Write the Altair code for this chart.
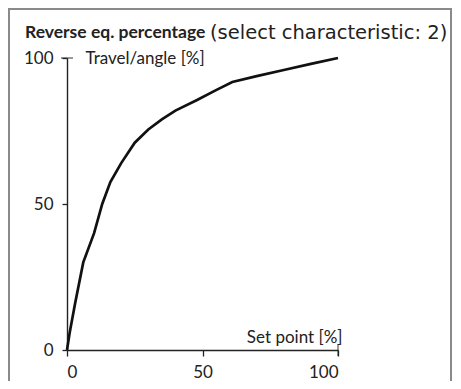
import altair as alt
import pandas as pd

# Data
set_point = [0, 1, 3, 6, 10, 13, 16, 20, 25, 30, 35, 40, 48, 55, 61, 70, 80, 90, 100]
travel = [0, 6, 16, 30, 40, 50, 57.5, 64, 71, 75.5, 79, 82, 85.6, 89, 91.8, 93.8, 95.9, 98, 100]
tick_values = [0, 50, 100]
title_bold = "Reverse eq. percentage"
title_rest = "(select characteristic: 2)"
x_title = "Set point [%]"
y_title = "Travel/angle [%]"

FONT = "Lato"
W, H = 271, 292
TOTAL_W, TOTAL_H = 445, 373

df = pd.DataFrame({"x": set_point, "y": travel})
ends = pd.DataFrame({"x": [0, 100], "y": [100, 0], "o": ["h", "v"]})

xs = alt.Scale(domain=[0, 100], nice=False, zero=False)
ys = alt.Scale(domain=[0, 100], nice=False, zero=False)

line = alt.Chart(df).mark_line(color="#111111", strokeWidth=2.7, clip=False).encode(
    x=alt.X("x:Q", scale=xs, axis=alt.Axis(
        values=tick_values, tickSize=6, tickWidth=1.3, tickColor="#222", domainColor="#222",
        domainWidth=1.4, grid=False, labelFont=FONT, labelFontSize=17, labelColor="#222",
        labelPadding=8, title=x_title, titleFont=FONT, titleFontSize=17, titleFontWeight="normal",
        titleColor="#222", titleX=W + 4, titleY=-13, titleAlign="right", titleBaseline="middle")),
    y=alt.Y("y:Q", scale=ys, axis=alt.Axis(
        values=tick_values, tickSize=5, tickWidth=1.3, tickColor="#222", domainColor="#222",
        domainWidth=1.4, grid=False, labelFont=FONT, labelFontSize=17, labelColor="#222",
        labelPadding=9, title=y_title, titleFont=FONT, titleFontSize=17, titleFontWeight="normal",
        titleColor="#222", titleAngle=0, titleX=18, titleY=0, titleAlign="left",
        titleBaseline="middle")),
)

hticks = alt.Chart(ends[ends.o == "h"]).mark_tick(orient="horizontal", size=12, thickness=1.3,
                                                  color="#222").encode(
    x=alt.X("x:Q", scale=xs), y=alt.Y("y:Q", scale=ys))
vticks = alt.Chart(ends[ends.o == "v"]).mark_tick(orient="vertical", size=12, thickness=1.3,
                                                  color="#222").encode(
    x=alt.X("x:Q", scale=xs), y=alt.Y("y:Q", scale=ys))

frame = alt.Chart(pd.DataFrame({"a": [0]})).mark_rect(
    fill=None, stroke="#8a8a8a", strokeWidth=2, clip=False).encode(
    x=alt.value(-58), x2=alt.value(384), y=alt.value(-49), y2=alt.value(420))

t1 = alt.Chart(pd.DataFrame({"t": [title_bold]})).mark_text(
    font=FONT, fontSize=17.5, fontWeight="bold", align="left", baseline="middle",
    color="#222").encode(text="t:N", x=alt.value(-42), y=alt.value(-25))
t2 = alt.Chart(pd.DataFrame({"t": [title_rest]})).mark_text(
    font="DejaVu Sans", fontSize=19.5, align="left", baseline="middle",
    color="#222").encode(text="t:N", x=alt.value(143), y=alt.value(-25))

chart = alt.layer(frame, line, hticks, vticks, t1, t2).properties(
    width=W, height=H,
    autosize=alt.AutoSizeParams(type="none"),
    padding={"left": 59, "top": 50, "right": TOTAL_W - 59 - W, "bottom": TOTAL_H - 50 - H},
).configure_view(stroke=None)

chart.save("out.html", embed_options={"renderer": "svg", "actions": False})
